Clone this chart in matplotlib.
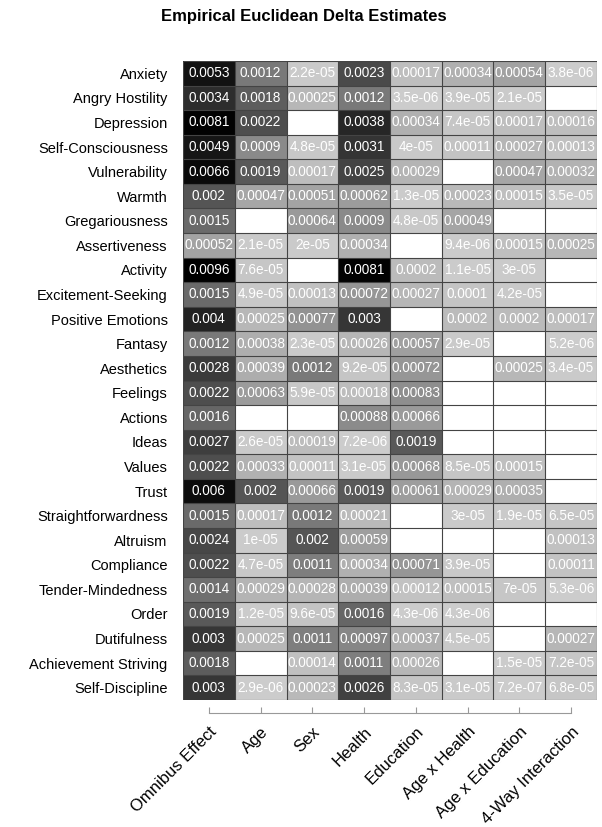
import numpy as np
import matplotlib.pyplot as plt
from matplotlib.colors import LinearSegmentedColormap, FuncNorm

plt.rcParams['font.family'] = ['Liberation Sans', 'DejaVu Sans']

# rows / columns
traits = ["Anxiety", "Angry Hostility", "Depression", "Self-Consciousness", "Vulnerability",
          "Warmth", "Gregariousness", "Assertiveness", "Activity", "Excitement-Seeking",
          "Positive Emotions", "Fantasy", "Aesthetics", "Feelings", "Actions", "Ideas",
          "Values", "Trust", "Straightforwardness", "Altruism", "Compliance",
          "Tender-Mindedness", "Order", "Dutifulness", "Achievement Striving", "Self-Discipline"]
effects = ["Omnibus Effect", "Age", "Sex", "Health", "Education",
           "Age x Health", "Age x Education", "4-Way Interaction"]

na = np.nan
# one column per effect (missing estimates are blank)
omnibus = [0.0053, 0.0034, 0.0081, 0.0049, 0.0066, 0.002, 0.0015, 0.00052, 0.0096, 0.0015,
           0.004, 0.0012, 0.0028, 0.0022, 0.0016, 0.0027, 0.0022, 0.006, 0.0015, 0.0024,
           0.0022, 0.0014, 0.0019, 0.003, 0.0018, 0.003]
age = [0.0012, 0.0018, 0.0022, 0.0009, 0.0019, 0.00047, na, 2.1e-05, 7.6e-05, 4.9e-05,
       0.00025, 0.00038, 0.00039, 0.00063, na, 2.6e-05, 0.00033, 0.002, 0.00017, 1e-05,
       4.7e-05, 0.00029, 1.2e-05, 0.00025, na, 2.9e-06]
sex = [2.2e-05, 0.00025, na, 4.8e-05, 0.00017, 0.00051, 0.00064, 2e-05, na, 0.00013,
       0.00077, 2.3e-05, 0.0012, 5.9e-05, na, 0.00019, 0.00011, 0.00066, 0.0012, 0.002,
       0.0011, 0.00028, 9.6e-05, 0.0011, 0.00014, 0.00023]
health = [0.0023, 0.0012, 0.0038, 0.0031, 0.0025, 0.00062, 0.0009, 0.00034, 0.0081, 0.00072,
          0.003, 0.00026, 9.2e-05, 0.00018, 0.00088, 7.2e-06, 3.1e-05, 0.0019, 0.00021, 0.00059,
          0.00034, 0.00039, 0.0016, 0.00097, 0.0011, 0.0026]
education = [0.00017, 3.5e-06, 0.00034, 4e-05, 0.00029, 1.3e-05, 4.8e-05, na, 0.0002, 0.00027,
             na, 0.00057, 0.00072, 0.00083, 0.00066, 0.0019, 0.00068, 0.00061, na, na,
             0.00071, 0.00012, 4.3e-06, 0.00037, 0.00026, 8.3e-05]
age_health = [0.00034, 3.9e-05, 7.4e-05, 0.00011, na, 0.00023, 0.00049, 9.4e-06, 1.1e-05, 0.0001,
              0.0002, 2.9e-05, na, na, na, na, 8.5e-05, 0.00029, 3e-05, na,
              3.9e-05, 0.00015, 4.3e-06, 4.5e-05, na, 3.1e-05]
age_edu = [0.00054, 2.1e-05, 0.00017, 0.00027, 0.00047, 0.00015, na, 0.00015, 3e-05, 4.2e-05,
           0.0002, na, 0.00025, na, na, na, 0.00015, 0.00035, 1.9e-05, na,
           na, 7e-05, na, na, 1.5e-05, 7.2e-07]
four_way = [3.8e-06, na, 0.00016, 0.00013, 0.00032, 3.5e-05, na, 0.00025, na, na,
            0.00017, 5.2e-06, 3.4e-05, na, na, na, na, na, 6.5e-05, 0.00013,
            0.00011, 5.3e-06, na, 0.00027, 7.2e-05, 6.8e-05]

vals = np.column_stack([omnibus, age, sex, health, education, age_health, age_edu, four_way])
data = np.ma.masked_invalid(vals)

cmap = LinearSegmentedColormap.from_list("greys", ["#cccccc", "#000000"])
cmap.set_bad("white")
k = 0.00235
norm = FuncNorm((lambda v: 1 - np.exp(-v / k), lambda u: -k * np.log(1 - u)),
                vmin=0, vmax=np.nanmax(vals))

fig = plt.figure(figsize=(6.02, 8.27), dpi=100)
ax = fig.add_axes([183 / 602, 1 - 700 / 827, (597 - 183) / 602, (700 - 61) / 827])

nr, nc = vals.shape
ax.pcolormesh(np.arange(nc + 1), np.arange(nr + 1), data, cmap=cmap, norm=norm)
ax.hlines(np.arange(nr + 1), 0, nc, color="#444444", lw=0.8)
ax.vlines(np.arange(nc + 1), 0, nr, color="#444444", lw=0.8)
ax.set_xlim(0, nc)
ax.set_ylim(nr, 0)

for i in range(nr):
    for j in range(nc):
        if not np.isnan(vals[i, j]):
            ax.text(j + 0.5, i + 0.5, "%.2g" % vals[i, j], ha="center", va="center",
                    color="white", fontsize=9.8)

# spine first: set_position resets the ticks
for s in ["top", "right", "left"]:
    ax.spines[s].set_visible(False)
ax.spines["bottom"].set_position(("outward", 9.4))
ax.spines["bottom"].set_bounds(0.5, nc - 0.5)
ax.spines["bottom"].set_color("#999999")

ax.set_yticks(np.arange(nr) + 0.5)
ax.set_yticklabels(traits, fontsize=10.5)
ax.tick_params(axis="y", length=0, pad=11)

ax.tick_params(axis="x", direction="in", length=4, color="#999999", pad=8)
ax.set_xticks(np.arange(nc) + 0.5)
ax.set_xticklabels(effects, fontsize=12, rotation=45, ha="right", va="top",
                   rotation_mode="anchor")

fig.text(304 / 602, 1 - 16 / 827, "Empirical Euclidean Delta Estimates",
         ha="center", va="center", fontsize=12, fontweight="bold")

plt.savefig("out.png", dpi=100)
